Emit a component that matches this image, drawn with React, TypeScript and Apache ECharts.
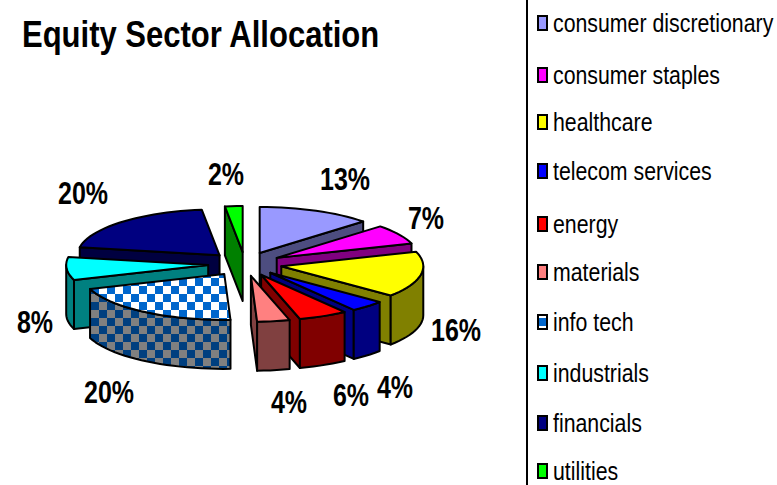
import React, { useEffect, useRef } from "react";
import * as echarts from "echarts";

const sectors = ["consumer discretionary", "consumer staples", "healthcare", "telecom services", "energy", "materials", "info tech", "industrials", "financials", "utilities"];
const shares = [13, 6.9, 16.1, 4, 5.6, 3.7, 20.4, 8.1, 20.2, 2];
const topColors = ["#9999FF", "#FF00FF", "#FFFF00", "#0000FF", "#FF0000", "#FF8080", "pattern", "#00FFFF", "#000080", "#00FF00"];
const sideColors = ["#4D4D80", "#800080", "#808000", "#000080", "#800000", "#804040", "pattern", "#008080", "#000040", "#008000"];
const paintOrder = [1, 3, 5, 6, 7, 9, 8, 4, 2, 0]; // z of each sector, back to front
const labelAnchors = [[345, 180], [426, 219], [456, 331], [395, 388], [351, 396], [289, 403], [109, 393], [35, 323], [83, 194], [226, 175]];
const legendRows = [23, 75, 122, 171, 224, 272, 322, 373, 423, 471];

const FONT = '"Liberation Sans", Arial, sans-serif';
const NARROW = 0.82;
const CX = 245, CY = 264, RX = 142, RY = 46, DEPTH = 49, EXPLODE = 0.26;

function checker(a: string, b: string) {
  const c = document.createElement("canvas");
  c.width = 16; c.height = 16;
  const g = c.getContext("2d")!;
  g.fillStyle = a; g.fillRect(0, 0, 16, 16);
  g.fillStyle = b;
  g.translate(11, 14);
  for (let i = -2; i < 2; i++) {
    for (let j = -2; j < 2; j++) {
      if ((i + j + 4) % 2 === 0) g.fillRect(i * 8, j * 8, 8, 8);
    }
  }
  return { image: c, repeat: "repeat", imageWidth: 16, imageHeight: 16 } as any;
}

export default function App() {
  const ref = useRef<HTMLDivElement>(null);
  useEffect(() => {
    document.body.style.margin = "0";
    const chart = echarts.init(ref.current!, null, { renderer: "svg" });
    const total = shares.reduce((s, v) => s + v, 0);
    const topPat = checker("#FFFFFF", "#0066CC");
    const sidePat = checker("#808080", "#003F7F");
    const fillOf = (i: number, top: boolean) => {
      const c = top ? topColors[i] : sideColors[i];
      return c === "pattern" ? (top ? topPat : sidePat) : c;
    };
    const line = { stroke: "#000", lineWidth: 2, lineJoin: "round" };
    const series = sectors.map((name, i) => ({
      type: "custom",
      name,
      coordinateSystem: "none",
      z: 2 + paintOrder[i],
      silent: true,
      data: [[shares[i]]],
      renderItem: (_p: any, api: any) => {
        const before = shares.slice(0, i).reduce((s, v) => s + v, 0);
        const a0 = (before / total) * 360;
        const a1 = ((before + api.value(0)) / total) * 360;
        const mid = (((a0 + a1) / 2) * Math.PI) / 180;
        const ax = CX + EXPLODE * RX * Math.sin(mid);
        const ay = CY - EXPLODE * RY * Math.cos(mid);
        const pt = (deg: number, d = 0) => {
          const r = (deg * Math.PI) / 180;
          return [ax + RX * Math.sin(r), ay - RY * Math.cos(r) + d];
        };
        const arc = (from: number, to: number, d = 0) => {
          const out: number[][] = [];
          const n = Math.max(1, Math.ceil((to - from) / 3));
          for (let k = 0; k <= n; k++) out.push(pt(from + ((to - from) * k) / n, d));
          return out;
        };
        const poly = (points: number[][], fill: any) => ({ type: "polygon", shape: { points }, style: { fill, ...line } });
        const children: any[] = [];
        const face = (deg: number) => poly([[ax, ay], pt(deg), pt(deg, DEPTH), [ax, ay + DEPTH]], fillOf(i, false));
        if (a0 > 180) children.push(face(a0));
        if (a1 < 180) children.push(face(a1));
        const f0 = Math.max(a0, 90), f1 = Math.min(a1, 270);
        if (f1 > f0) children.push(poly([...arc(f0, f1), ...arc(f0, f1, DEPTH).reverse()], fillOf(i, false)));
        children.push(poly([[ax, ay], ...arc(a0, a1)], fillOf(i, true)));
        children.push({
          type: "text",
          x: labelAnchors[i][0], y: labelAnchors[i][1], scaleX: NARROW,
          style: {
            text: Math.round(api.value(0)) + "%",
            x: 0, y: 0,
            font: `bold 30.5px ${FONT}`, fill: "#000", textAlign: "center", textVerticalAlign: "middle",
          },
        });
        return { type: "group", children };
      },
    }));
    const legendItems: any[] = [];
    sectors.forEach((name, i) => {
      const y = legendRows[i];
      const isPattern = topColors[i] === "pattern";
      legendItems.push({
        type: "rect", silent: true, shape: { x: 538, y: y - 7, width: 9, height: 14 },
        style: { fill: isPattern ? "#FFFFFF" : topColors[i], stroke: "#000", lineWidth: 2 },
      });
      if (isPattern) {
        legendItems.push({ type: "rect", silent: true, shape: { x: 539, y: y - 4, width: 7, height: 8 }, style: { fill: "#0066CC" } });
      }
      legendItems.push({
        type: "text", silent: true, x: 553, y, scaleX: NARROW,
        style: { text: name, x: 0, y: 0, font: `26px ${FONT}`, fill: "#000", textAlign: "left", textVerticalAlign: "middle" },
      });
    });
    chart.setOption({
      animation: false,
      backgroundColor: "#fff",
      graphic: [
        {
          type: "text", silent: true, x: 22, y: 34, scaleX: 0.825,
          style: { text: "Equity Sector Allocation", x: 0, y: 0, font: `bold 37.6px ${FONT}`, fill: "#000", textAlign: "left", textVerticalAlign: "middle" },
        },
        { type: "line", silent: true, shape: { x1: 527, y1: 0, x2: 527, y2: 485 }, style: { stroke: "#000", lineWidth: 2 } },
        ...legendItems,
      ],
      series,
    });
    return () => chart.dispose();
  }, []);
  return <div ref={ref} style={{ position: "absolute", left: 0, top: 0, width: 777, height: 485 }} />;
}
